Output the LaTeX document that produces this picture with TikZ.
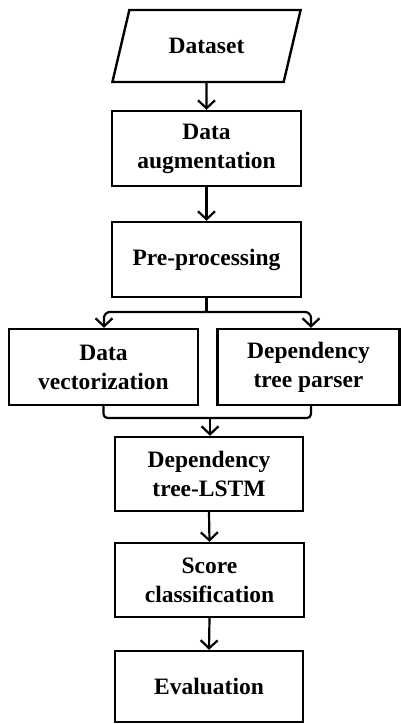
\documentclass[tikz,border=0pt]{standalone}
\usepackage{fontspec}
\setmainfont{Liberation Serif}
\usetikzlibrary{shapes.geometric,arrows.meta}
\begin{document}
\begin{tikzpicture}[x=1pt,y=1pt,
  txt/.style={font=\fontsize{23.5}{29}\selectfont\bfseries},
  box/.style={draw, line width=2.4pt, minimum width=189pt, minimum height=75pt, inner sep=0pt, align=center, txt},
  conn/.style={line width=2.2pt, -{Straight Barb[length=8pt,width=17pt,line width=2.2pt]}},
  line/.style={line width=2.2pt}]
\useasboundingbox (0,0) rectangle (401,-724);
\node[draw, line width=2.4pt, trapezium, trapezium stretches=true, trapezium left angle=62, trapezium right angle=118,
  minimum width=189pt, minimum height=72pt, inner sep=0pt, txt] (ds) at (206.5,-46) {Dataset};
\node[box] (aug) at (206.5,-148.5) {Data\\augmentation};
\node[box] (pre) at (206.5,-259.5) {Pre-processing};
\node[box, minimum height=76pt] (vec) at (103.5,-367) {Data\\vectorization};
\node[box, minimum height=76pt, minimum width=182pt] (dep) at (308.5,-367) {Dependency\\tree parser};
\node[box, minimum height=74pt, minimum width=188pt] (lstm) at (209,-474) {Dependency\\tree-LSTM};
\node[box, minimum height=74pt] (score) at (209.5,-580) {Score\\classification};
\node[box, minimum height=71pt, minimum width=188pt] (eval) at (209,-686.5) {Evaluation};
\coordinate (split) at (206.5,-312);
\coordinate (merge) at (210,-418);
\draw[conn] (ds.south) -- (aug.north);
\draw[conn] (aug.south) -- (pre.north);
\draw[line] (pre.south) -- (split);
\draw[conn, rounded corners=6pt] (split) -| ([xshift=0.5pt]vec.north);
\draw[conn, rounded corners=6pt] (split) -| ([xshift=2.5pt]dep.north);
\draw[line, rounded corners=4pt] (vec.south) |- (merge) -| ([xshift=2.5pt]dep.south);
\draw[conn] (merge) -- (merge |- lstm.north);
\draw[conn] (lstm.south) -- (score.north);
\draw[conn] (score.south) -- (eval.north);
\end{tikzpicture}
\end{document}
